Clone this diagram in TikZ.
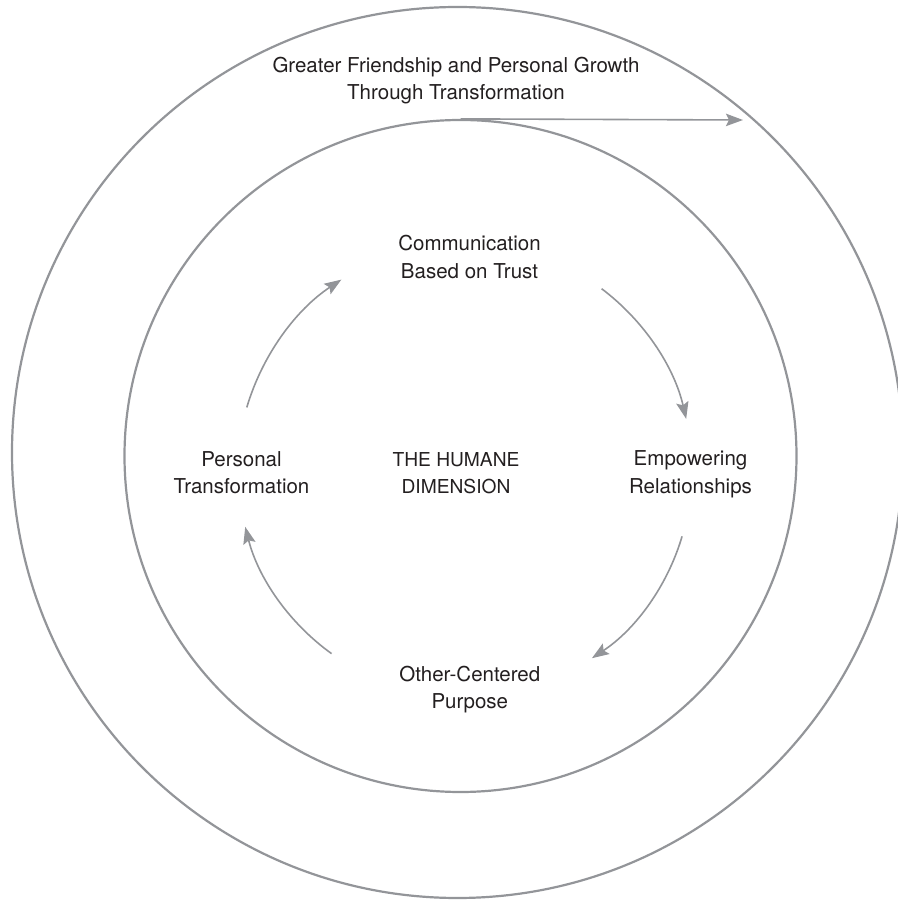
\documentclass[tikz,border=0pt]{standalone}
\usepackage{fontspec}
\setmainfont{TeX Gyre Heros}
\usetikzlibrary{arrows.meta}
\definecolor{ringgray}{RGB}{147,149,153}
\definecolor{ink}{RGB}{35,31,32}

\begin{document}
\begin{tikzpicture}[x=0.5pt, y=0.5pt,
    every node/.style={font=\fontsize{10.25}{13.75}\selectfont, text=ink, align=center},
    ring/.style={circle, draw=ringgray, line width=1.1pt, inner sep=0pt, minimum size=#1},
    link/.style={draw=ringgray, line width=0.8pt, -{Stealth[length=8.5pt, width=6.2pt, inset=1.5pt]}},
    cyc/.style={link, bend left=20, looseness=0.88}]
    \useasboundingbox (0,0) rectangle (898,901);
    \clip (0,0) rectangle (898,901);
    \node[ring=445.5pt] (outer) at (457.5,448.5) {};
    \node[ring=336pt] (inner) at (460.5,445) {};
    \node (growth) at (456,820.5) {Greater Friendship and Personal Growth\\Through Transformation};
    \node (comm) at (469.5,644) {Communication\\Based on Trust};
    \node (emp) at (690.5,426.5) {Empowering\\Relationships};
    \node (other) at (469.8,211.4) {Other-Centered\\Purpose};
    \node (pers) at (241.5,428.5) {Personal\\Transformation};
    \node[font=\fontsize{9.6}{13.75}\selectfont] (humane) at (456,428) {THE HUMANE\\DIMENSION};
    \coordinate (hub) at (465,431);
    \coordinate (rim) at (743,781);
    \foreach \name/\ang in {pers-out/164, comm-in/123, comm-out/53, emp-in/13,
                            emp-out/-17, oth-in/-56, oth-out/-126, pers-in/-165.5}
        \coordinate (\name) at ([shift={(hub)}]\ang:227);
    \draw[link] (inner.north) -- (rim);
    \draw[cyc] (pers-out) to (comm-in);
    \draw[cyc] (comm-out) to (emp-in);
    \draw[cyc] (emp-out) to (oth-in);
    \draw[cyc] (oth-out) to (pers-in);
\end{tikzpicture}
\end{document}
